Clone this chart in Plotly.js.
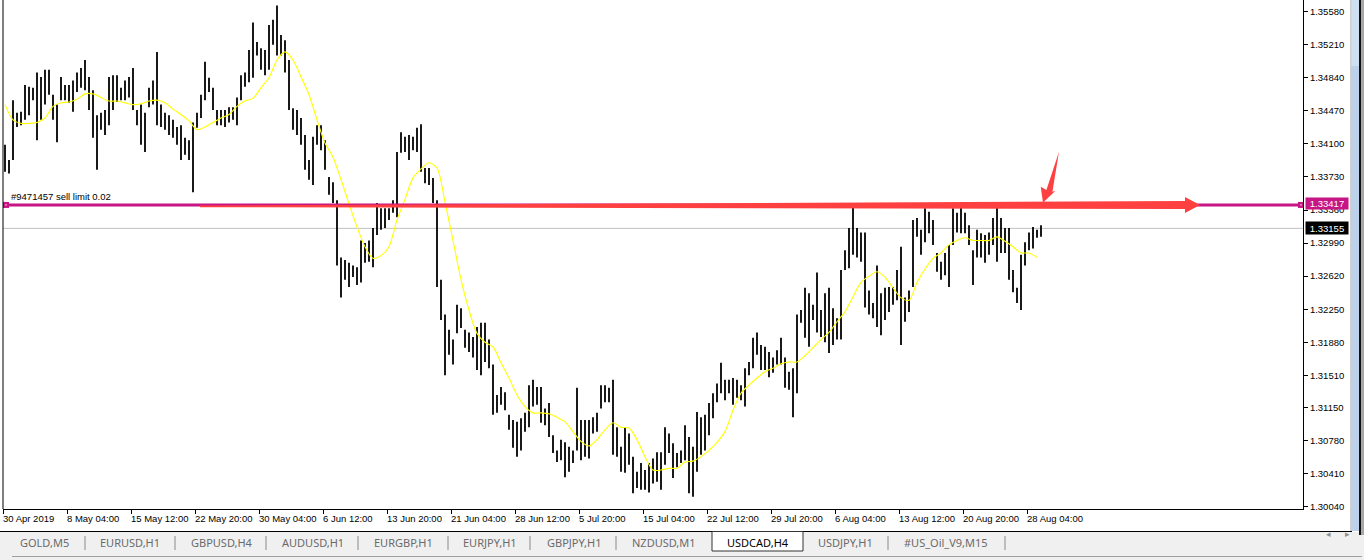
<!DOCTYPE html>
<html><head><meta charset="utf-8">
<script src="https://cdn.plot.ly/plotly-3.0.1.min.js"></script>
<style>html,body{margin:0;padding:0;background:#fff;overflow:hidden}#chart{width:1364px;height:560px}</style>
</head><body><div id="chart"></div>
<script>
// ---------------- DATA ----------------
const barHigh = [
1.3409,1.3392,1.3459,1.3445,1.3446,1.3476,1.3474,1.3473,1.3490,1.3485,
1.3493,1.3493,1.3465,1.3454,1.3485,1.3476,1.3476,1.3481,1.3490,1.3495,
1.3504,1.3485,1.3470,1.3442,1.3445,1.3448,1.3485,1.3487,1.3487,1.3473,
1.3481,1.3485,1.3495,1.3448,1.3454,1.3445,1.3473,1.3481,1.3513,1.3454,
1.3445,1.3442,1.3437,1.3429,1.3431,1.3417,1.3414,1.3434,1.3445,1.3465,
1.3502,1.3484,1.3473,1.3448,1.3448,1.3448,1.3451,1.3451,1.3462,1.3487,
1.3490,1.3515,1.3546,1.3524,1.3517,1.3515,1.3543,1.3549,1.3565,1.3532,
1.3526,1.3504,1.3450,1.3448,1.3439,1.3420,1.3392,1.3418,1.3431,1.3431,
1.3414,1.3373,1.3367,1.3347,1.3283,1.3280,1.3277,1.3274,1.3272,1.3302,
1.3299,1.3302,1.3316,1.3344,1.3338,1.3338,1.3338,1.3347,1.3401,1.3423,
1.3418,1.3420,1.3418,1.3428,1.3432,1.3383,1.3383,1.3372,1.3347,1.3258,
1.3219,1.3202,1.3191,1.3230,1.3226,1.3202,1.3199,1.3194,1.3205,1.3210,
1.3210,1.3191,1.3163,1.3129,1.3138,1.3132,1.3107,1.3101,1.3099,1.3103,
1.3109,1.3140,1.3146,1.3138,1.3138,1.3114,1.3120,1.3084,1.3067,1.3079,
1.3076,1.3071,1.3067,1.3137,1.3101,1.3101,1.3101,1.3104,1.3109,1.3140,
1.3140,1.3137,1.3146,1.3093,1.3071,1.3092,1.3086,1.3060,1.3043,1.3053,
1.3045,1.3053,1.3058,1.3065,1.3065,1.3093,1.3086,1.3075,1.3064,1.3067,
1.3095,1.3082,1.3071,1.3110,1.3104,1.3107,1.3120,1.3131,1.3142,1.3165,
1.3146,1.3146,1.3148,1.3146,1.3140,1.3159,1.3166,1.3193,1.3199,1.3185,
1.3183,1.3177,1.3171,1.3179,1.3193,1.3171,1.3155,1.3159,1.3219,1.3224,
1.3249,1.3243,1.3230,1.3266,1.3224,1.3243,1.3249,1.3226,1.3215,1.3269,
1.3291,1.3316,1.3344,1.3316,1.3311,1.3311,1.3246,1.3232,1.3274,1.3243,
1.3249,1.3250,1.3250,1.3269,1.3295,1.3238,1.3246,1.3325,1.3327,1.3314,
1.3338,1.3334,1.3325,1.3288,1.3278,1.3288,1.3297,1.3338,1.3333,1.3345,
1.3333,1.3319,1.3291,1.3314,1.3310,1.3308,1.3311,1.3327,1.3339,1.3327,
1.3316,1.3316,1.3269,1.3249,1.3286,1.3300,1.3311,1.3317,1.3314,1.3319];
const barLow = [
1.3379,1.3377,1.3392,1.3429,1.3431,1.3437,1.3442,1.3459,1.3414,1.3437,
1.3454,1.3465,1.3437,1.3412,1.3459,1.3459,1.3456,1.3446,1.3468,1.3473,
1.3470,1.3448,1.3417,1.3381,1.3426,1.3420,1.3431,1.3448,1.3457,1.3459,
1.3459,1.3462,1.3448,1.3431,1.3409,1.3401,1.3451,1.3454,1.3431,1.3429,
1.3426,1.3420,1.3417,1.3409,1.3392,1.3398,1.3392,1.3356,1.3428,1.3439,
1.3459,1.3468,1.3448,1.3431,1.3431,1.3429,1.3434,1.3437,1.3431,1.3459,
1.3474,1.3479,1.3484,1.3509,1.3493,1.3487,1.3493,1.3521,1.3509,1.3509,
1.3490,1.3448,1.3426,1.3420,1.3409,1.3381,1.3370,1.3364,1.3409,1.3403,
1.3381,1.3353,1.3344,1.3274,1.3238,1.3258,1.3250,1.3261,1.3252,1.3255,
1.3277,1.3278,1.3272,1.3308,1.3314,1.3316,1.3325,1.3333,1.3328,1.3400,
1.3401,1.3392,1.3403,1.3401,1.3379,1.3366,1.3364,1.3344,1.3250,1.3213,
1.3151,1.3174,1.3163,1.3198,1.3204,1.3182,1.3177,1.3171,1.3157,1.3151,
1.3166,1.3159,1.3107,1.3109,1.3118,1.3112,1.3090,1.3070,1.3060,1.3067,
1.3088,1.3093,1.3116,1.3118,1.3098,1.3095,1.3082,1.3064,1.3054,1.3056,
1.3037,1.3043,1.3053,1.3067,1.3056,1.3060,1.3058,1.3086,1.3088,1.3114,
1.3121,1.3121,1.3062,1.3060,1.3043,1.3042,1.3051,1.3019,1.3025,1.3023,
1.3023,1.3020,1.3030,1.3032,1.3023,1.3051,1.3064,1.3036,1.3048,1.3053,
1.3056,1.3019,1.3015,1.3043,1.3062,1.3067,1.3084,1.3103,1.3121,1.3131,
1.3123,1.3131,1.3118,1.3126,1.3123,1.3116,1.3151,1.3159,1.3174,1.3157,
1.3157,1.3149,1.3154,1.3163,1.3163,1.3137,1.3135,1.3104,1.3131,1.3210,
1.3193,1.3183,1.3213,1.3199,1.3194,1.3188,1.3176,1.3185,1.3191,1.3191,
1.3269,1.3271,1.3286,1.3283,1.3278,1.3227,1.3219,1.3215,1.3205,1.3196,
1.3213,1.3222,1.3230,1.3235,1.3185,1.3211,1.3222,1.3250,1.3306,1.3286,
1.3300,1.3310,1.3297,1.3267,1.3258,1.3263,1.3250,1.3297,1.3311,1.3310,
1.3310,1.3297,1.3252,1.3283,1.3283,1.3277,1.3286,1.3297,1.3278,1.3288,
1.3288,1.3258,1.3244,1.3232,1.3224,1.3274,1.3291,1.3293,1.3305,1.3306];
// moving average, one reading every 2nd bar
const maValues = [
1.3454,1.3437,1.3433,1.3433,1.3434,1.3439,1.3452,1.3456,1.3457,1.3460,
1.3466,1.3466,1.3462,1.3458,1.3458,1.3456,1.3454,1.3455,1.3458,1.3459,
1.3456,1.3449,1.3443,1.3436,1.3426,1.3429,1.3434,1.3439,1.3443,1.3452,
1.3458,1.3461,1.3473,1.3484,1.3504,1.3513,1.3504,1.3485,1.3465,1.3437,
1.3411,1.3395,1.3370,1.3343,1.3317,1.3295,1.3282,1.3285,1.3295,1.3325,
1.3348,1.3372,1.3382,1.3389,1.3383,1.3345,1.3302,1.3258,1.3224,1.3198,
1.3188,1.3183,1.3165,1.3148,1.3129,1.3116,1.3109,1.3109,1.3108,1.3104,
1.3099,1.3088,1.3077,1.3072,1.3079,1.3090,1.3098,1.3093,1.3092,1.3079,
1.3060,1.3045,1.3045,1.3047,1.3047,1.3054,1.3055,1.3060,1.3067,1.3076,
1.3088,1.3112,1.3131,1.3140,1.3148,1.3155,1.3159,1.3164,1.3166,1.3166,
1.3173,1.3182,1.3191,1.3199,1.3211,1.3222,1.3239,1.3255,1.3262,1.3267,
1.3261,1.3249,1.3238,1.3235,1.3255,1.3270,1.3282,1.3288,1.3297,1.3302,
1.3305,1.3302,1.3302,1.3302,1.3306,1.3301,1.3295,1.3288,1.3288,1.3283];
const maStep = 2;
const xTickLabels = ["30 Apr 2019","8 May 04:00","15 May 12:00","22 May 20:00","30 May 04:00","6 Jun 12:00",
  "13 Jun 20:00","21 Jun 04:00","28 Jun 12:00","5 Jul 20:00","15 Jul 04:00","22 Jul 12:00","29 Jul 20:00",
  "6 Aug 04:00","13 Aug 12:00","20 Aug 20:00","28 Aug 04:00"];
const xTickEvery = 16;
const yTickValues = [1.35580,1.35210,1.34840,1.34470,1.34100,1.33730,1.33360,1.32990,1.32620,1.32250,
  1.31880,1.31510,1.31150,1.30780,1.30410,1.30040];
const sellLimitPrice = 1.33417;
const sellLimitText = "#9471457 sell limit 0.02";
const bidPrice = 1.33155;
const tabLabels = ["GOLD,M5","EURUSD,H1","GBPUSD,H4","AUDUSD,H1","EURGBP,H1","EURJPY,H1","GBPJPY,H1",
  "NZDUSD,M1","USDCAD,H4","USDJPY,H1","#US_Oil_V9,M15"];
const activeTab = "USDCAD,H4";

// ---------------- LAYOUT GEOMETRY ----------------
const W=1364,H=560,L=3,R=61,T=0,B=51;
const plotW=W-L-R, plotH=H-T-B;
const pxPerBar=4;
const xRange=[-0.5,-0.5+plotW/pxPerBar];
const yRange=[1.30014,1.35711];
const pricePerPx=(yRange[1]-yRange[0])/plotH;
const xOfPx=p=>xRange[0]+(p-L)/pxPerBar;
const yOfPx=p=>yRange[1]-(p-T)*pricePerPx;
const pxOfY=v=>T+(yRange[1]-v)/pricePerPx;
const paperX=p=>(p-L)/plotW;
const paperY=p=>(H-B-p)/plotH;
const tabCenters=[44,130,222,313,403,490,574,664,758,845,946];
const tabSeps=[85,175,266,358,448,530,616,888,1005];
const FONT='"Liberation Sans", Arial, sans-serif';

// ---------------- TRACES ----------------
const bx=[],by=[];
barHigh.forEach((h,i)=>{bx.push(i,i,null);by.push(h,barLow[i],null);});
const bars={type:'scatter',mode:'lines',x:bx,y:by,line:{color:'#000',width:1.8},hoverinfo:'skip',connectgaps:false};
const ma={type:'scatter',mode:'lines',x:maValues.map((_,m)=>m*maStep),y:maValues,
  line:{color:'#ffff00',width:1.1,shape:'spline',smoothing:0.8},hoverinfo:'skip'};

// ---------------- SHAPES ----------------
const lineY=pxOfY(sellLimitPrice);
function pathPx(pts){return 'M '+pts.map(p=>xOfPx(p[0])+','+yOfPx(p[1])).join(' L ')+' Z';}
const shapes=[];
shapes.push({type:'line',xref:'paper',yref:'y',x0:0,x1:1,y0:bidPrice,y1:bidPrice,line:{color:'#c0c0c0',width:1},layer:'below'});
shapes.push({type:'line',xref:'paper',yref:'y',x0:0,x1:1,y0:sellLimitPrice,y1:sellLimitPrice,line:{color:'#c71585',width:3}});
// hand drawn red arrow along the order line
shapes.push({type:'path',xref:'x',yref:'y',path:pathPx([[200,lineY+0.5],[1185,lineY-4],[1185,lineY-8],[1200,lineY],[1185,lineY+8],[1185,lineY+4],[200,lineY+2.2]]),
  fillcolor:'#ff4040',line:{width:0}});
const tipX=1043,tipY=lineY-2.3;
shapes.push({type:'path',xref:'x',yref:'y',path:pathPx([[tipX+16,tipY-51],[tipX+9.4,tipY-11],[tipX+12.4,tipY-12],[tipX,tipY],[tipX-2.3,tipY-16],[tipX+3.4,tipY-12.7]]),
  fillcolor:'#ff4040',line:{width:0}});
// order line end markers
[[3,9],[1298,1304]].forEach(([a,b])=>{
  shapes.push({type:'rect',xref:'x',yref:'y',x0:xOfPx(a),x1:xOfPx(b),y0:yOfPx(lineY-3),y1:yOfPx(lineY+3),fillcolor:'#c71585',line:{width:0}});
  shapes.push({type:'rect',xref:'x',yref:'y',x0:xOfPx((a+b)/2-0.6),x1:xOfPx((a+b)/2+0.6),y0:yOfPx(lineY-0.6),y1:yOfPx(lineY+0.6),fillcolor:'#fff',line:{width:0}});
});
// left border of chart
shapes.push({type:'line',xref:'paper',yref:'paper',x0:0,x1:0,y0:0,y1:1,line:{color:'#000',width:1}});
// tab strip
shapes.push({type:'rect',xref:'paper',yref:'paper',x0:paperX(0),x1:paperX(W),y0:paperY(H),y1:paperY(532),fillcolor:'#f0f0f0',line:{width:0}});
shapes.push({type:'line',xref:'paper',yref:'paper',x0:paperX(0),x1:paperX(1352),y0:paperY(531.5),y1:paperY(531.5),line:{color:'#000',width:1}});
shapes.push({type:'line',xref:'paper',yref:'paper',x0:paperX(12),x1:paperX(1362),y0:paperY(556.5),y1:paperY(556.5),line:{color:'#a0a0a0',width:1}});
const ai=tabLabels.indexOf(activeTab);
shapes.push({type:'rect',xref:'paper',yref:'paper',x0:paperX(712),x1:paperX(803),y0:paperY(551),y1:paperY(531.5),fillcolor:'#fff',line:{color:'#333',width:1}});
tabSeps.forEach(s=>shapes.push({type:'line',xref:'paper',yref:'paper',x0:paperX(s),x1:paperX(s),y0:paperY(536),y1:paperY(550),line:{color:'#8a8a8a',width:1}}));
// right scrollbar column
shapes.push({type:'line',xref:'paper',yref:'paper',x0:paperX(1351),x1:paperX(1351),y0:paperY(531),y1:paperY(0),line:{color:'#a0a0a0',width:1}});
shapes.push({type:'rect',xref:'paper',yref:'paper',x0:paperX(1351.5),x1:paperX(1359),y0:paperY(531),y1:paperY(0),fillcolor:'#bcd0ea',line:{width:0}});
shapes.push({type:'rect',xref:'paper',yref:'paper',x0:paperX(1351.5),x1:paperX(1359),y0:paperY(66),y1:paperY(0),fillcolor:'#cfdff2',line:{width:0}});
shapes.push({type:'line',xref:'paper',yref:'paper',x0:paperX(1360),x1:paperX(1360),y0:paperY(535),y1:paperY(0),line:{color:'#111',width:2}});
shapes.push({type:'rect',xref:'paper',yref:'paper',x0:paperX(1361),x1:paperX(W),y0:paperY(535),y1:paperY(0),fillcolor:'#a8a8a8',line:{width:0}});

// ---------------- ANNOTATIONS ----------------
const ann=[];
xTickLabels.forEach((t,n)=>ann.push({xref:'x',yref:'paper',x:n*xTickEvery-0.5+0.001,y:0,xanchor:'left',yanchor:'top',
  xshift:-2,yshift:-2,text:t,showarrow:false,font:{family:FONT,size:9.5,color:'#000'}}));
ann.push({xref:'x',yref:'y',x:1,y:sellLimitPrice,xanchor:'left',yanchor:'bottom',yshift:1,text:sellLimitText,showarrow:false,
  font:{family:FONT,size:9.5,color:'#000'}});
ann.push({xref:'paper',yref:'y',x:1,y:sellLimitPrice,xanchor:'left',yanchor:'middle',xshift:2,yshift:1,text:sellLimitPrice.toFixed(5),
  showarrow:false,bgcolor:'#c71585',width:40,height:9,borderpad:1,font:{family:FONT,size:9.5,color:'#fff'}});
ann.push({xref:'paper',yref:'y',x:1,y:bidPrice,xanchor:'left',yanchor:'middle',xshift:2,text:bidPrice.toFixed(5),
  showarrow:false,bgcolor:'#000',width:40,height:10,borderpad:1,font:{family:FONT,size:9.5,color:'#fff'}});
tabLabels.forEach((t,i)=>ann.push({xref:'paper',yref:'paper',x:paperX(tabCenters[i]),y:paperY(542),xanchor:'center',yanchor:'middle',
  text:t,showarrow:false,font:{family:'"Noto Sans", "Liberation Sans", sans-serif',size:11,color:i===ai?'#000':'#6a6a6a'}}));
ann.push({xref:'paper',yref:'paper',x:paperX(1333),y:paperY(541),text:'\u25C2',showarrow:false,font:{family:'DejaVu Sans',size:9,color:'#909090'}});
ann.push({xref:'paper',yref:'paper',x:paperX(1352),y:paperY(541),text:'\u25B8',showarrow:false,font:{family:'DejaVu Sans',size:9,color:'#909090'}});

const layout={
  width:W,height:H,margin:{l:L,r:R,t:T,b:B,pad:0},paper_bgcolor:'#fff',plot_bgcolor:'#fff',showlegend:false,hovermode:false,
  xaxis:{range:xRange,showgrid:false,zeroline:false,showline:true,linecolor:'#000',linewidth:1,ticks:'outside',ticklen:4,
    tickcolor:'#000',tickwidth:1,tickvals:xTickLabels.map((_,n)=>n*xTickEvery-0.5),showticklabels:false,fixedrange:true},
  yaxis:{side:'right',range:yRange,showgrid:false,zeroline:false,showline:true,linecolor:'#000',linewidth:1,ticks:'outside',
    ticklen:4,tickcolor:'#000',tickwidth:1,tickvals:yTickValues,ticktext:yTickValues.map(v=>v.toFixed(5)),
    tickfont:{family:FONT,size:9.5,color:'#000'},fixedrange:true},
  shapes:shapes,annotations:ann
};
Plotly.newPlot('chart',[bars,ma],layout,{displayModeBar:false,staticPlot:true});
</script></body></html>
